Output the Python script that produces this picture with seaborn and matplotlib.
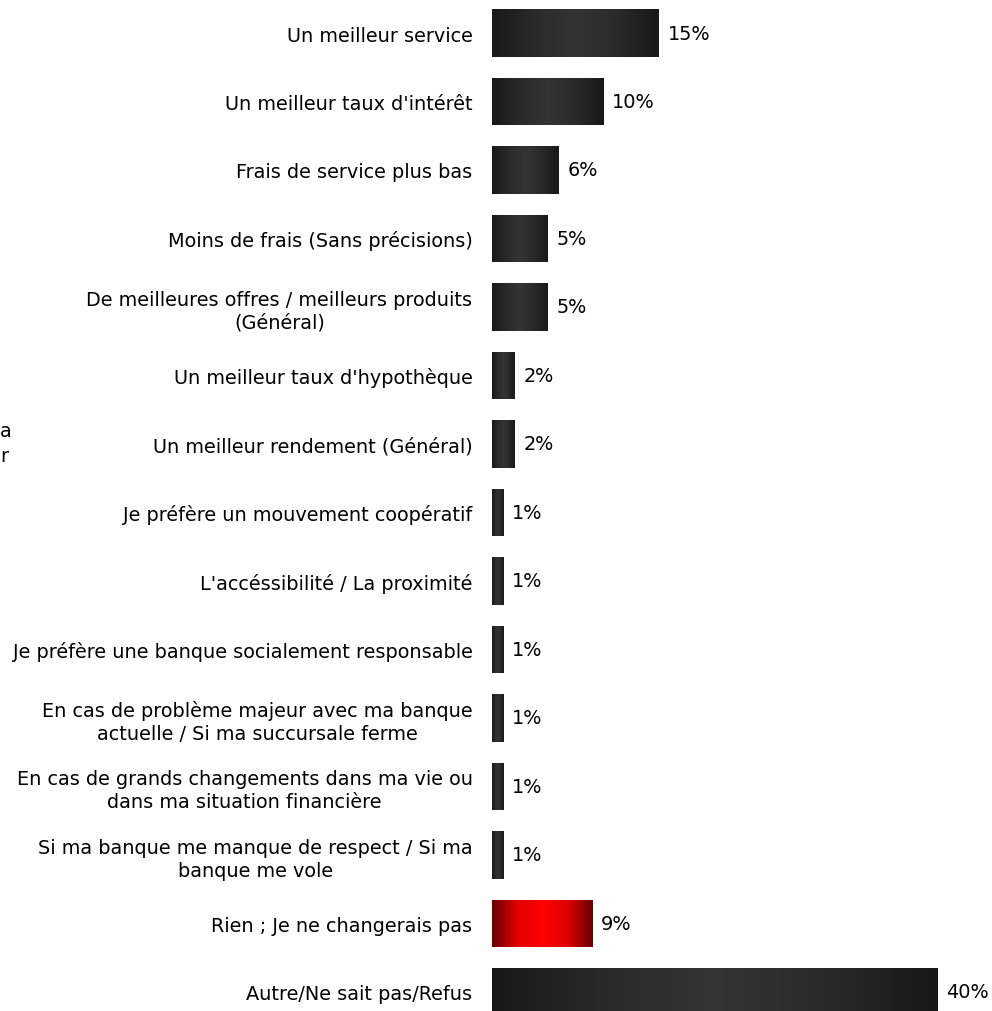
import numpy as np
import pandas as pd
import matplotlib
matplotlib.use("Agg")
import matplotlib.pyplot as plt
from matplotlib.colors import LinearSegmentedColormap
import seaborn as sns

categories = [
    "Un meilleur service",
    "Un meilleur taux d'intérêt",
    "Frais de service plus bas",
    "Moins de frais (Sans précisions)",
    "De meilleures offres / meilleurs produits\n(Général)",
    "Un meilleur taux d'hypothèque",
    "Un meilleur rendement (Général)",
    "Je préfère un mouvement coopératif",
    "L'accéssibilité / La proximité",
    "Je préfère une banque socialement responsable",
    "En cas de problème majeur avec ma banque\nactuelle / Si ma succursale ferme",
    "En cas de grands changements dans ma vie ou\ndans ma situation financière",
    "Si ma banque me manque de respect / Si ma\nbanque me vole",
    "Rien ; Je ne changerais pas",
    "Autre/Ne sait pas/Refus",
]
values = [15, 10, 6, 5, 5, 2, 2, 1, 1, 1, 1, 1, 1, 9, 40]
highlight = "Rien ; Je ne changerais pas"

df = pd.DataFrame({"raison": categories, "pct": values})
df["groupe"] = np.where(df["raison"] == highlight, "rien", "autre")

sns.set_theme(style="white")
plt.rcParams["font.family"] = ["DejaVu Sans"]

FS = 13.9
W, H = 992, 1012
fig = plt.figure(figsize=(W / 100, H / 100), dpi=100)
left_px, px_per_pct = 492, 445 / 40
xmax = 44
ax = fig.add_axes([left_px / W, 0, xmax * px_per_pct / W, 1])

sns.barplot(data=df, y="raison", x="pct", hue="groupe", orient="h",
            palette={"autre": "#262626", "rien": "#d00000"},
            dodge=False, width=0.70, legend=False, ax=ax)

ax.set_xlabel("")
ax.set_ylabel("")
ax.set_xticks([])
for s in ax.spines.values():
    s.set_visible(False)

# horizontal shading on each bar: dark edges, lighter centre
dark = LinearSegmentedColormap.from_list("dk", ["#181818", "#2a2a2a", "#343434", "#2a2a2a", "#181818"])
red = LinearSegmentedColormap.from_list("rd", ["#6a0000", "#e00000", "#ff0000", "#e00000", "#6a0000"])
grad = np.linspace(0, 1, 256).reshape(1, -1)
for patch in list(ax.patches):
    x0, y0 = patch.get_x(), patch.get_y()
    w, h = patch.get_width(), patch.get_height()
    if w <= 0:
        continue
    r, g, b, _ = patch.get_facecolor()
    cmap = red if r > 0.5 else dark
    im = ax.imshow(grad, cmap=cmap, aspect="auto", interpolation="bicubic",
                   extent=(x0, x0 + w, y0 + h, y0), zorder=patch.get_zorder() + 0.1)
    im.set_clip_path(patch)

ax.set_xlim(0, xmax)
ax.set_ylim((H - 34) / 68.5, -34 / 68.5)

ax.tick_params(axis="y", length=0, pad=14, labelsize=FS, labelcolor="#000000")
for t in ax.get_yticklabels():
    t.set_multialignment("center")
    t.set_linespacing(1.26)

for i, v in enumerate(values):
    ax.text(v + 9 / px_per_pct, i, f"{v}%", va="center", ha="left",
            fontsize=FS, color="#000000")

# partial heading at the left edge
fig.text(0.0, 1 - 444 / H, "a\nr", ha="left", va="center", fontsize=FS,
         color="#000000", linespacing=1.4)

fig.savefig("out.png", dpi=100)
